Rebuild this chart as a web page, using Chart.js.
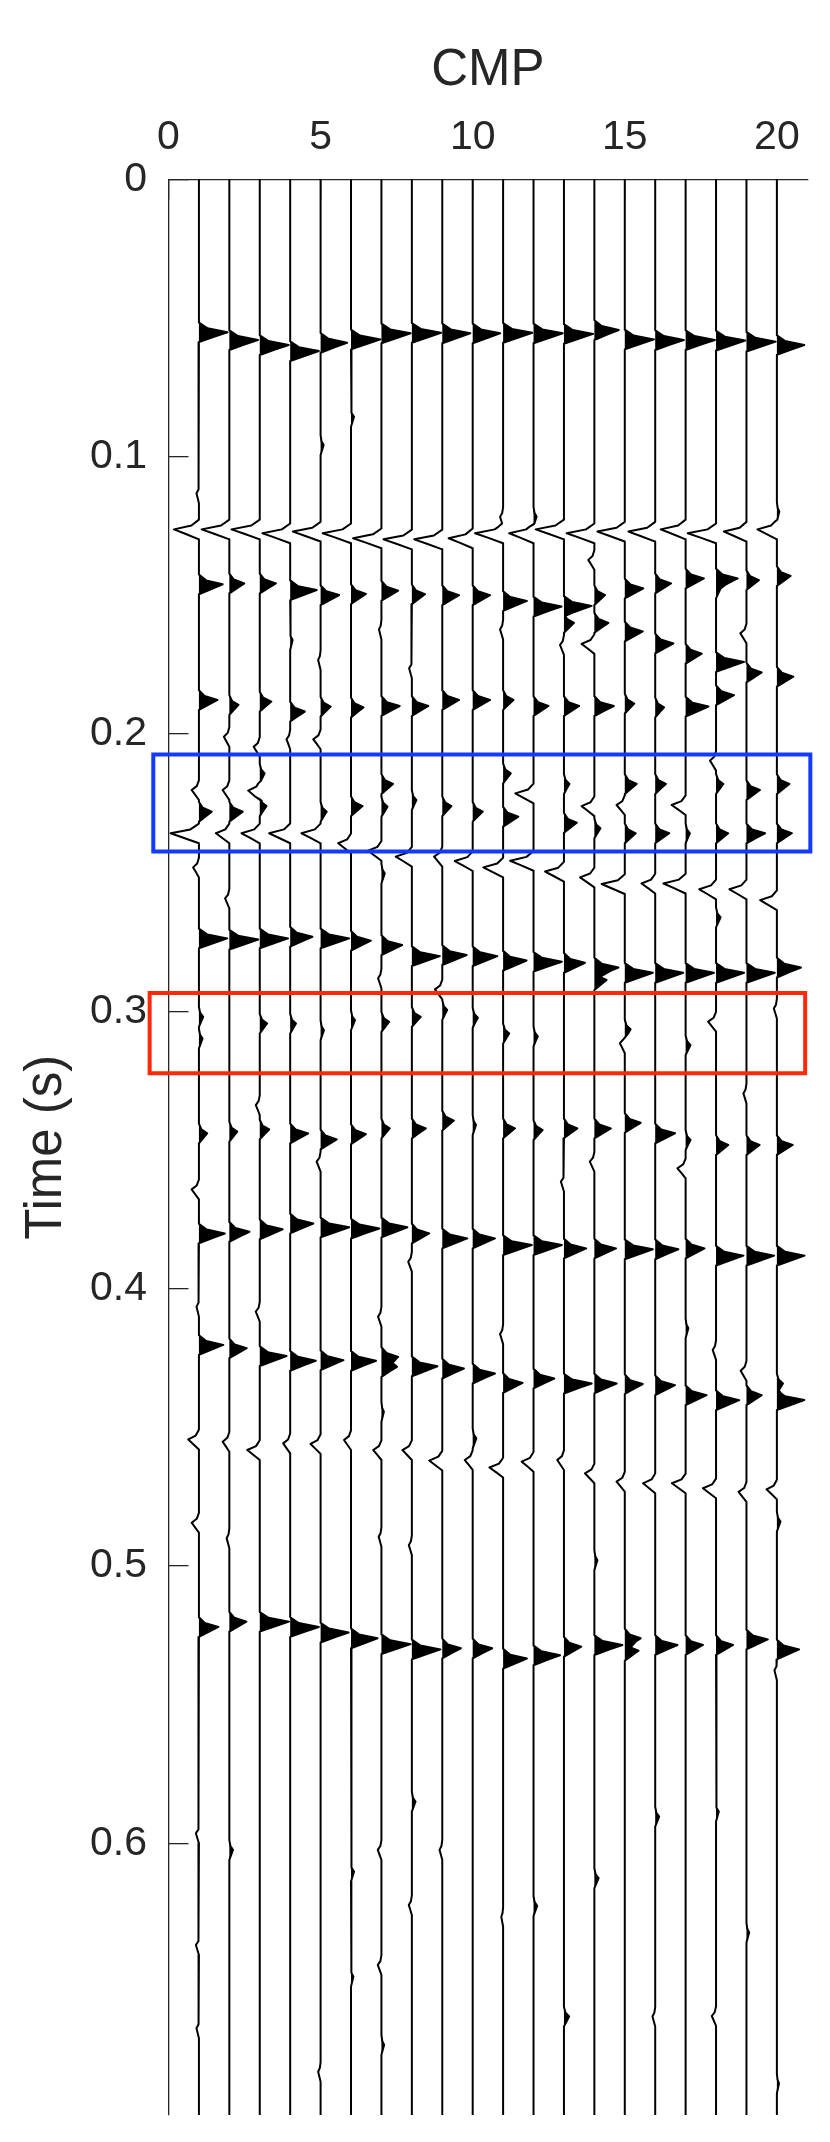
<!DOCTYPE html>
<html>
<head>
<meta charset="utf-8">
<script src="https://cdn.jsdelivr.net/npm/chart.js@4.4.1/dist/chart.umd.min.js"></script>
<style>
  html, body { margin: 0; padding: 0; background: #fff; }
</style>
</head>
<body>
<canvas id="wiggle" width="830" height="2142"></canvas>
<script>
// CMP trace numbers and axis ticks
const cmp = [1, 2, 3, 4, 5, 6, 7, 8, 9, 10, 11, 12, 13, 14, 15, 16, 17, 18, 19, 20];
const xTicks = [0, 5, 10, 15, 20];
const yTicks = [0, 0.1, 0.2, 0.3, 0.4, 0.5, 0.6];
const tMax = 0.698;

// picked reflections: time (s) and amplitude for each CMP (null = nothing there)
const firstT = [0.0551, 0.0579, 0.0597, 0.0619, 0.0589, 0.0577, 0.0555, 0.0553, 0.0555, 0.0555, 0.0553, 0.0555, 0.0557, 0.0543, 0.0577, 0.0579, 0.0579, 0.0581, 0.0585, 0.0597];
const firstA = [0.94, 0.94, 0.95, 0.94, 0.87, 0.97, 0.96, 0.96, 0.92, 0.90, 0.96, 0.96, 0.96, 0.80, 0.96, 0.94, 0.96, 0.96, 0.96, 0.90];

const trough1T = [0.1262, 0.1262, 0.1262, 0.1276, 0.1270, 0.1276, 0.1294, 0.1298, 0.1298, 0.1294, 0.1276, 0.1276, 0.1262, 0.1276, 0.1270, 0.1270, 0.1262, 0.1276, 0.1270, 0.1262];
const trough1A = [-0.82, -0.91, -0.93, -0.91, -0.91, -0.93, -0.93, -0.93, -0.92, -0.79, -0.92, -0.80, -0.93, -0.91, -0.90, -0.88, -0.82, -0.93, -0.74, -0.64];

const peak1T = [0.1460, 0.1457, 0.1457, 0.1481, 0.1499, 0.1495, 0.1483, 0.1496, 0.1499, 0.1499, 0.1520, 0.1540, 0.1538, 0.1499, 0.1475, 0.1457, 0.1439, 0.1439, 0.1445, 0.1430];
const peak1A = [0.78, 0.49, 0.53, 0.87, 0.61, 0.49, 0.55, 0.43, 0.55, 0.57, 0.78, 0.92, 0.91, 0.35, 0.61, 0.52, 0.60, 0.71, 0.41, 0.45];

const dipT = [null, null, null, null, null, null, null, null, null, null, null, null, 0.1599, 0.1599, 0.1630, 0.1673, 0.1710, 0.1740, 0.1778, 0.1793];
const dipA = [null, null, null, null, null, null, null, null, null, null, null, null, 0.33, 0.46, 0.59, 0.60, 0.53, 0.92, 0.50, 0.54];

const peak2T = [0.1877, 0.1895, 0.1883, 0.1919, 0.1901, 0.1904, 0.1899, 0.1899, 0.1877, 0.1877, 0.1877, 0.1899, 0.1899, 0.1899, 0.1890, 0.1904, 0.1901, 0.1860, null, null];
const peak2A = [0.61, 0.30, 0.38, 0.48, 0.33, 0.41, 0.60, 0.54, 0.55, 0.57, 0.34, 0.49, 0.50, 0.64, 0.31, 0.29, 0.75, 0.59, null, null];

const boxPeakT = [0.2280, 0.2280, 0.2260, null, 0.2280, 0.2260, 0.2262, 0.2238, 0.2260, 0.2280, 0.2298, null, 0.2320, 0.2340, 0.2358, 0.2358, 0.2358, 0.2358, 0.2358, 0.2358];
const boxPeakA = [0.42, 0.44, 0.22, null, 0.20, 0.38, 0.20, 0.15, 0.30, 0.33, 0.50, null, 0.42, 0.20, 0.36, 0.46, 0.14, 0.40, 0.61, 0.49];

const trough2T = [0.2358, 0.2358, 0.2358, 0.2358, 0.2358, 0.2394, 0.2421, 0.2442, 0.2442, 0.2458, 0.2481, 0.2457, 0.2496, 0.2517, 0.2541, 0.2539, 0.2539, 0.2560, 0.2560, 0.2599];
const trough2A = [-0.93, -0.44, -0.60, -0.69, -0.63, -0.42, -0.44, -0.53, -0.27, -0.59, -0.65, -0.77, -0.62, -0.47, -0.76, -0.45, -0.73, -0.55, -0.56, -0.55];

const peak3T = [0.2737, 0.2741, 0.2737, 0.2731, 0.2737, 0.2745, 0.2761, 0.2801, 0.2797, 0.2801, 0.2817, 0.2821, 0.2825, 0.2842, 0.2861, 0.2861, 0.2861, 0.2861, 0.2861, 0.2842];
const peak3A = [0.93, 0.95, 0.93, 0.73, 0.94, 0.65, 0.68, 0.92, 0.80, 0.81, 0.77, 0.93, 0.69, 0.79, 0.92, 0.92, 0.93, 0.92, 0.93, 0.79];

const peak4T = [0.3440, 0.3434, 0.3426, 0.3440, 0.3462, 0.3443, 0.3422, 0.3422, 0.3394, 0.3410, 0.3422, 0.3428, 0.3422, 0.3422, 0.3402, 0.3440, 0.3464, 0.3482, 0.3482, 0.3482];
const peak4A = [0.27, 0.26, 0.31, 0.59, 0.53, 0.49, 0.27, 0.46, 0.38, 0.11, 0.39, 0.30, 0.44, 0.54, 0.52, 0.65, 0.16, 0.40, 0.43, 0.52];

const peak5T = [0.3801, 0.3795, 0.3786, 0.3765, 0.3779, 0.3783, 0.3779, 0.3801, 0.3819, 0.3819, 0.3843, 0.3843, 0.3855, 0.3855, 0.3858, 0.3858, 0.3855, 0.3881, 0.3881, 0.3881];
const peak5A = [0.85, 0.66, 0.75, 0.76, 0.94, 0.93, 0.85, 0.57, 0.82, 0.73, 0.94, 0.93, 0.73, 0.71, 0.92, 0.76, 0.62, 0.90, 0.91, 0.91];

const peak6T = [0.4203, 0.4215, 0.4243, 0.4260, 0.4258, 0.4260, 0.4246, 0.4280, 0.4288, 0.4306, 0.4340, 0.4324, 0.4342, 0.4342, 0.4344, 0.4348, 0.4384, 0.4402, 0.4384, 0.4402];
const peak6A = [0.80, 0.57, 0.88, 0.84, 0.75, 0.82, 0.55, 0.84, 0.71, 0.73, 0.64, 0.68, 0.91, 0.73, 0.59, 0.65, 0.69, 0.76, 0.50, 0.90];

const trough3T = [0.4544, 0.4552, 0.4582, 0.4558, 0.4560, 0.4546, 0.4582, 0.4582, 0.4620, 0.4618, 0.4645, 0.4624, 0.4618, 0.4666, 0.4696, 0.4702, 0.4702, 0.4720, 0.4733, 0.4724];
const trough3A = [-0.35, -0.22, -0.41, -0.23, -0.33, -0.23, -0.27, -0.31, -0.43, -0.26, -0.45, -0.39, -0.22, -0.31, -0.27, -0.40, -0.45, -0.43, -0.26, -0.34];

const peak7T = [0.5220, 0.5201, 0.5201, 0.5220, 0.5240, 0.5261, 0.5282, 0.5301, 0.5297, 0.5297, 0.5334, 0.5322, 0.5291, 0.5285, 0.5261, 0.5285, 0.5285, 0.5285, 0.5265, 0.5301];
const peak7A = [0.64, 0.56, 0.96, 0.94, 0.92, 0.87, 0.96, 0.94, 0.61, 0.64, 0.78, 0.87, 0.57, 0.92, 0.52, 0.73, 0.57, 0.56, 0.70, 0.73];

// weaker wiggles: [cmp, time, amplitude]
const minorPicks = [
  [1, 0.1132, -0.08], [5, 0.0958, 0.10], [6, 0.0856, 0.10], [11, 0.1217, -0.10], [20, 0.1198, 0.08], [12, 0.1216, 0.10],
  [4, 0.1661, 0.08], [5, 0.1733, -0.08], [7, 0.1623, -0.08], [8, 0.1763, -0.09], [11, 0.1623, -0.10],
  [13, 0.1679, -0.13], [14, 0.1675, -0.42], [14, 0.1372, -0.20], [19, 0.1637, -0.20], [18, 0.1475, 0.15],
  [2, 0.2010, -0.18], [3, 0.2046, -0.20], [4, 0.2019, -0.12], [5, 0.2019, -0.24],
  [1, 0.2202, -0.24], [2, 0.2202, -0.22], [3, 0.2142, 0.16], [3, 0.2204, -0.38], [7, 0.2180, 0.38], [11, 0.2142, 0.25],
  [12, 0.2214, -0.60], [13, 0.2180, 0.18], [14, 0.2260, -0.42], [15, 0.2180, 0.39], [15, 0.2256, -0.27], [16, 0.2180, 0.35],
  [17, 0.2256, -0.46], [18, 0.2096, -0.20], [18, 0.2180, 0.24], [19, 0.2202, 0.44], [20, 0.2180, 0.41],
  [1, 0.2481, -0.19], [2, 0.2593, -0.14], [7, 0.2503, 0.11], [18, 0.2661, 0.15], [14, 0.2887, 0.40],
  [7, 0.2881, -0.11], [9, 0.2921, -0.24],
  [1, 0.3020, 0.14], [1, 0.3098, 0.12], [3, 0.3044, 0.24], [4, 0.3044, 0.19], [5, 0.3068, 0.11], [6, 0.3032, 0.13],
  [7, 0.3038, 0.25], [8, 0.3020, 0.29], [9, 0.2995, 0.16], [10, 0.3023, 0.17], [11, 0.3080, 0.20], [12, 0.3090, 0.14],
  [15, 0.3065, 0.19], [15, 0.3115, -0.16], [17, 0.3122, 0.16], [18, 0.3037, -0.26], [20, 0.2990, -0.10], [19, 0.3296, -0.10],
  [3, 0.3338, -0.13], [1, 0.3642, -0.24], [5, 0.3542, -0.13], [14, 0.3542, -0.15], [13, 0.3614, -0.10], [17, 0.3566, -0.27],
  [8, 0.3903, -0.12], [3, 0.4083, -0.13], [7, 0.4101, -0.11], [1, 0.4065, -0.08], [11, 0.4164, -0.10], [17, 0.4143, 0.09],
  [7, 0.4282, 0.51], [18, 0.4221, -0.11], [19, 0.4296, -0.19], [20, 0.4342, 0.20], [7, 0.4444, 0.08], [10, 0.4540, 0.12],
  [1, 0.4844, -0.24], [2, 0.4900, -0.09], [7, 0.4895, -0.09], [8, 0.4925, -0.10], [14, 0.4979, 0.10], [20, 0.4840, 0.12],
  [15, 0.5306, 0.45], [20, 0.5376, -0.08],
  [1, 0.5964, -0.10], [1, 0.6367, -0.10], [1, 0.6667, -0.08], [2, 0.6024, 0.12], [5, 0.6824, -0.08],
  [6, 0.6102, 0.10], [6, 0.6481, 0.08], [7, 0.6024, -0.12], [7, 0.6439, -0.12], [7, 0.6727, 0.09],
  [8, 0.5850, 0.12], [8, 0.6223, -0.10], [9, 0.6024, -0.09], [11, 0.6265, -0.06], [12, 0.6226, 0.12],
  [13, 0.6625, 0.17], [14, 0.6126, 0.14], [16, 0.5904, 0.13], [16, 0.6625, -0.09], [18, 0.5886, 0.09],
  [18, 0.6623, -0.14], [19, 0.6322, 0.09], [20, 0.6866, 0.07]
];

// highlight boxes: [x from, x to, time from, time to]
const blueBox = [-0.50, 21.10, 0.2074, 0.2424];
const redBox = [-0.62, 20.93, 0.2934, 0.3223];

// wavelet glyph used for every pick (time offset in s, fraction of amplitude)
const lobeDt = [-0.0035, -0.0014, 0, 0.0016, 0.0036];
const lobeShape = [0, 0.3, 1, 0.55, 0];

const reflectors = [
  [firstT, firstA], [trough1T, trough1A], [peak1T, peak1A], [dipT, dipA], [peak2T, peak2A],
  [boxPeakT, boxPeakA], [trough2T, trough2A], [peak3T, peak3A], [peak4T, peak4A], [peak5T, peak5A],
  [peak6T, peak6A], [trough3T, trough3A], [peak7T, peak7A]
];

function lobeAt(u) {
  if (u <= lobeDt[0] || u >= lobeDt[lobeDt.length - 1]) return 0;
  for (let j = 1; j < lobeDt.length; j++) {
    if (u <= lobeDt[j]) {
      const f = (u - lobeDt[j - 1]) / (lobeDt[j] - lobeDt[j - 1]);
      return lobeShape[j - 1] + f * (lobeShape[j] - lobeShape[j - 1]);
    }
  }
  return 0;
}

function buildTrace(i) {
  const events = [];
  reflectors.forEach(([T, A]) => {
    if (T[i] !== null) events.push([T[i], A[i]]);
  });
  minorPicks.forEach(p => {
    if (p[0] === cmp[i]) events.push([p[1], p[2]]);
  });
  let times = [0, tMax];
  events.forEach(([t]) => lobeDt.forEach(d => times.push(t + d)));
  times = times.map(t => Math.round(t * 1e6) / 1e6).sort((a, b) => a - b);
  times = times.filter((t, j) => j === 0 || t !== times[j - 1]);
  return times.map(t => {
    let v = 0;
    events.forEach(([te, a]) => { v += a * lobeAt(t - te); });
    return { t, v };
  });
}

const datasets = [];
[[blueBox, 'rgb(20, 58, 255)'], [redBox, 'rgb(255, 40, 8)']].forEach(([b, c]) => {
  datasets.push({
    data: [
      { x: b[0], y: b[2] }, { x: b[1], y: b[2] }, { x: b[1], y: b[3] },
      { x: b[0], y: b[3] }, { x: b[0], y: b[2] }, { x: b[1], y: b[2] }
    ],
    showLine: true, borderColor: c, borderWidth: 4, pointRadius: 0,
    fill: false, clip: false, order: 0, borderJoinStyle: 'miter'
  });
});

cmp.forEach((k, i) => {
  const pts = buildTrace(i);
  datasets.push({
    data: pts.map(p => ({ x: k + p.v, y: p.t })),
    indexAxis: 'y', showLine: true, borderColor: '#000', borderWidth: 2,
    pointRadius: 0, fill: false, order: 1, borderJoinStyle: 'round'
  });
  datasets.push({
    data: pts.map(p => ({ x: k + Math.max(p.v, 0), y: p.t })),
    indexAxis: 'y', showLine: true, borderColor: 'rgba(0,0,0,0)', borderWidth: 1,
    backgroundColor: '#000', pointRadius: 0, fill: { value: k }, order: 2
  });
});

const font = 'Liberation Sans, Arial, Helvetica, sans-serif';
const axisColor = '#262626';

new Chart(document.getElementById('wiggle'), {
  type: 'scatter',
  data: { datasets },
  options: {
    responsive: false,
    devicePixelRatio: 1,
    animation: false,
    layout: { padding: { left: 0, top: 0, right: 22.7, bottom: 27 } },
    plugins: { legend: { display: false }, tooltip: { enabled: false } },
    scales: {
      x: {
        type: 'linear', position: 'top', min: 0, max: 21,
        afterFit: s => { s.height = 179.4; s.paddingLeft = 0; s.paddingRight = 0; },
        afterBuildTicks: s => { s.ticks = xTicks.map(v => ({ value: v })); },
        ticks: {
          callback: v => String(v), color: axisColor, padding: 37, maxRotation: 0,
          font: { family: font, size: 41 }
        },
        grid: { drawOnChartArea: false, tickLength: -20, color: axisColor, lineWidth: 1.3 },
        border: { display: true, color: axisColor, width: 1.3 },
        title: {
          display: true, text: 'CMP', color: axisColor,
          font: { family: font, size: 51 }, padding: { top: 40, bottom: 0 }
        }
      },
      y: {
        type: 'linear', reverse: true, min: 0, max: tMax,
        afterFit: s => { s.width = 168.5; s.paddingTop = 0; s.paddingBottom = 0; },
        afterBuildTicks: s => { s.ticks = yTicks.map(v => ({ value: v })); },
        ticks: {
          callback: v => String(v), color: axisColor, padding: 41.5,
          font: { family: font, size: 41 }
        },
        grid: { drawOnChartArea: false, tickLength: -20, color: axisColor, lineWidth: 1.3 },
        border: { display: true, color: axisColor, width: 1.3 },
        title: {
          display: true, text: 'Time (s)', color: axisColor,
          font: { family: font, size: 51 }, padding: { top: 16, bottom: 0 }
        }
      }
    }
  }
});
</script>
</body>
</html>
